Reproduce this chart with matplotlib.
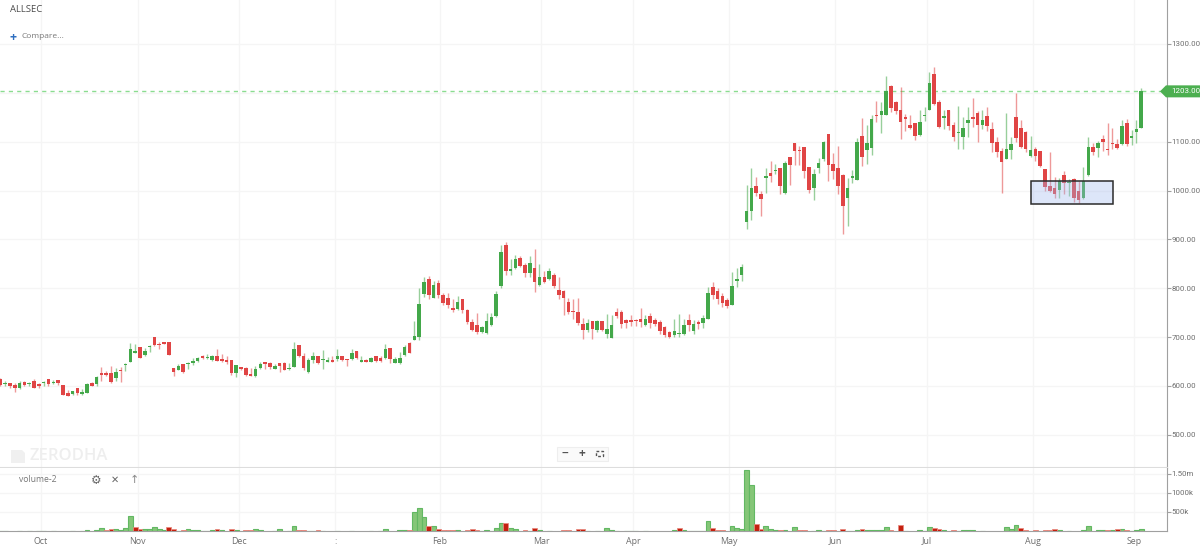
import numpy as np
import matplotlib
matplotlib.use("Agg")
import matplotlib.pyplot as plt
from matplotlib.patches import Rectangle, Polygon

plt.rcParams['font.family'] = ['Open Sans', 'DejaVu Sans']

symbol = "ALLSEC"
last_price = 1203.0

opens = [
    614, 604, 605, 601, 595, 609, 603, 610, 603, 605,
    614, 605, 612, 601, 586, 584, 595, 583, 586, 607,
    604, 624, 627, 627, 616, 633, 642, 649, 668, 680,
    663, 680, 701, 684, 689, 689, 637, 633, 644, 644,
    646, 652, 659, 657, 653, 661, 655, 652, 654, 626,
    639, 637, 622, 620, 636, 650, 646, 635, 646, 646,
    634, 639, 683, 661, 628, 653, 662, 653, 649, 653,
    656, 661, 654, 655, 671, 650, 654, 649, 661, 658,
    658, 677, 647, 646, 663, 687, 695, 701, 789, 818,
    780, 811, 786, 780, 760, 758, 778, 756, 731, 725,
    710, 708, 725, 744, 805, 888, 836, 841, 861, 848,
    831, 841, 807, 823, 818, 827, 797, 795, 772, 753,
    752, 727, 714, 733, 715, 732, 707, 699, 752, 751,
    735, 735, 735, 737, 725, 743, 735, 731, 720, 711,
    704, 706, 707, 735, 713, 731, 728, 738, 803, 795,
    785, 775, 766, 814, 827, 935, 958, 1010, 992, 1026,
    1035, 1039, 1046, 994, 1068, 1098, 1083, 1090, 1048, 1006,
    1046, 1065, 1115, 1054, 1046, 1032, 984, 1025, 1022, 1111,
    1082, 1088, 1154, 1154, 1154, 1214, 1182, 1165, 1150, 1135,
    1139, 1113, 1152, 1165, 1238, 1182, 1148, 1165, 1134, 1118,
    1109, 1139, 1151, 1158, 1135, 1153, 1125, 1099, 1080, 1064,
    1082, 1150, 1129, 1120, 1071, 1085, 1080, 1045, 1009, 1006,
    1002, 1031, 1015, 1024, 999, 984, 1031, 1090, 1088, 1105,
    1086, 1096, 1096, 1095, 1138, 1108, 1119, 1129,
]
closes = [
    602, 607, 600, 595, 605, 601, 607, 595, 599, 609,
    604, 608, 607, 582, 580, 589, 586, 588, 604, 600,
    618, 623, 622, 609, 629, 631, 644, 676, 671, 658,
    672, 682, 683, 683, 685, 663, 629, 640, 629, 645,
    651, 658, 658, 658, 661, 652, 652, 650, 626, 642,
    634, 622, 621, 635, 645, 644, 638, 641, 641, 633,
    637, 676, 661, 636, 654, 662, 646, 656, 654, 650,
    662, 654, 653, 667, 658, 652, 650, 658, 651, 652,
    676, 656, 655, 658, 680, 668, 703, 767, 812, 786,
    807, 786, 770, 765, 755, 771, 756, 730, 715, 710,
    720, 732, 741, 788, 875, 836, 839, 859, 846, 832,
    851, 812, 823, 812, 835, 805, 787, 780, 752, 751,
    729, 715, 729, 716, 733, 715, 717, 725, 744, 726,
    729, 730, 733, 731, 738, 728, 726, 712, 705, 701,
    712, 708, 725, 725, 727, 727, 739, 790, 786, 777,
    769, 764, 805, 818, 843, 958, 1005, 994, 982, 1029,
    1030, 1043, 1009, 1056, 1052, 1081, 1080, 1039, 1001, 1033,
    1057, 1099, 1052, 1039, 1010, 969, 1005, 1029, 1099, 1069,
    1097, 1147, 1152, 1163, 1203, 1169, 1162, 1141, 1146, 1129,
    1112, 1141, 1154, 1221, 1177, 1131, 1152, 1133, 1109, 1119,
    1128, 1145, 1147, 1135, 1145, 1133, 1097, 1078, 1059, 1084,
    1096, 1108, 1090, 1086, 1083, 1070, 1050, 1008, 1000, 993,
    1019, 1015, 1016, 985, 980, 1020, 1090, 1079, 1097, 1099,
    1082, 1095, 1087, 1133, 1095, 1112, 1126, 1203,
]
highs = [
    616, 610, 607, 605, 610, 610, 609, 614, 605, 610,
    614, 612, 612, 601, 592, 590, 595, 594, 607, 609,
    620, 639, 631, 641, 636, 639, 646, 687, 686, 680,
    677, 684, 701, 689, 689, 689, 637, 645, 644, 650,
    658, 660, 663, 665, 663, 675, 665, 661, 654, 643,
    639, 638, 636, 641, 650, 650, 649, 644, 646, 648,
    646, 690, 683, 668, 658, 669, 662, 673, 660, 661,
    675, 662, 656, 675, 671, 661, 656, 660, 662, 661,
    686, 677, 660, 670, 684, 690, 732, 800, 823, 826,
    814, 817, 791, 790, 778, 784, 778, 757, 737, 750,
    722, 749, 749, 795, 888, 895, 859, 867, 865, 851,
    865, 880, 849, 836, 841, 831, 822, 797, 780, 778,
    781, 739, 738, 733, 734, 733, 748, 746, 760, 756,
    738, 745, 737, 759, 746, 749, 739, 735, 722, 713,
    737, 748, 737, 748, 734, 734, 746, 802, 812, 800,
    790, 780, 834, 842, 850, 1012, 1047, 1028, 999, 1046,
    1060, 1054, 1047, 1060, 1068, 1098, 1092, 1090, 1048, 1044,
    1067, 1101, 1115, 1076, 1092, 1033, 1025, 1041, 1108, 1149,
    1135, 1154, 1184, 1181, 1235, 1215, 1183, 1211, 1157, 1154,
    1139, 1165, 1170, 1242, 1252, 1186, 1164, 1165, 1140, 1174,
    1150, 1171, 1190, 1163, 1165, 1171, 1141, 1109, 1087, 1158,
    1109, 1199, 1145, 1121, 1112, 1090, 1080, 1045, 1079, 1027,
    1026, 1039, 1024, 1025, 1020, 1049, 1110, 1097, 1102, 1114,
    1139, 1129, 1105, 1144, 1146, 1124, 1144, 1209,
]
lows = [
    599, 599, 595, 588, 594, 600, 600, 595, 595, 599,
    599, 604, 601, 582, 580, 582, 582, 582, 586, 599,
    600, 611, 621, 607, 610, 609, 631, 649, 667, 657,
    661, 670, 681, 675, 685, 663, 620, 632, 626, 635,
    643, 650, 655, 656, 652, 652, 649, 644, 623, 618,
    633, 620, 620, 618, 634, 634, 635, 634, 629, 633,
    633, 639, 660, 633, 626, 646, 644, 635, 648, 649,
    651, 651, 641, 654, 656, 649, 649, 648, 650, 650,
    656, 646, 646, 645, 662, 667, 695, 694, 783, 778,
    779, 780, 766, 759, 752, 756, 750, 727, 712, 707,
    708, 707, 722, 742, 801, 827, 827, 839, 843, 824,
    822, 793, 805, 810, 817, 800, 778, 746, 747, 737,
    725, 697, 710, 697, 710, 712, 698, 698, 739, 718,
    718, 722, 723, 721, 722, 718, 722, 707, 701, 698,
    701, 700, 704, 712, 706, 716, 718, 737, 778, 768,
    761, 760, 765, 802, 814, 921, 939, 988, 948, 994,
    1018, 1033, 993, 993, 1011, 1052, 1052, 1025, 995, 980,
    1035, 1061, 1020, 1023, 993, 911, 928, 1016, 1021, 1050,
    1055, 1072, 1141, 1118, 1154, 1160, 1157, 1106, 1121, 1126,
    1104, 1112, 1142, 1164, 1176, 1128, 1126, 1123, 1101, 1086,
    1085, 1110, 1131, 1100, 1126, 1121, 1078, 1068, 995, 1064,
    1064, 1100, 1087, 1078, 1068, 1061, 1049, 999, 997, 984,
    985, 993, 988, 977, 974, 983, 1030, 1073, 1069, 1080,
    1073, 1085, 1086, 1093, 1092, 1094, 1097, 1127,
]
# volume per session, in thousands of shares
volumes_k = [
    12, 10, 8, 12, 10, 8, 10, 12, 8, 10,
    10, 8, 12, 10, 12, 8, 10, 8, 14, 10,
    35, 80, 15, 45, 45, 35, 90, 380, 100, 60,
    60, 60, 115, 45, 25, 115, 60, 10, 35, 45,
    25, 25, 12, 10, 15, 45, 25, 10, 45, 25,
    12, 25, 25, 60, 25, 10, 8, 10, 60, 10,
    12, 130, 25, 25, 8, 10, 25, 8, 10, 6,
    8, 10, 8, 12, 10, 8, 10, 12, 8, 10,
    60, 12, 10, 25, 25, 14, 490, 590, 360, 130,
    125, 60, 25, 25, 25, 15, 12, 25, 60, 25,
    12, 25, 10, 90, 220, 220, 90, 45, 12, 25,
    10, 80, 25, 10, 8, 10, 12, 25, 25, 12,
    60, 45, 12, 10, 8, 10, 80, 25, 10, 8,
    10, 8, 10, 12, 8, 10, 12, 8, 10, 8,
    25, 80, 25, 12, 10, 8, 10, 250, 80, 25,
    18, 12, 140, 80, 60, 1590, 1200, 180, 45, 125,
    60, 35, 25, 25, 10, 115, 25, 25, 10, 10,
    25, 10, 25, 25, 8, 45, 10, 12, 25, 60,
    25, 25, 25, 25, 115, 25, 10, 170, 10, 12,
    10, 25, 10, 100, 80, 45, 25, 10, 25, 10,
    25, 25, 25, 8, 10, 8, 12, 10, 8, 100,
    45, 160, 80, 35, 12, 25, 10, 25, 25, 45,
    25, 12, 10, 8, 10, 25, 130, 10, 35, 25,
    25, 35, 45, 60, 35, 10, 25, 45,
]

price_ticks = [500, 600, 700, 800, 900, 1000, 1100, 1200, 1300]
# the 1200 level has no label of its own, the last price tag sits there
price_tick_labels = ["500.00", "600.00", "700.00", "800.00", "900.00", "1000.00", "1100.00", "", "1300.00"]
volume_ticks = [500000, 1000000, 1500000]
volume_tick_labels = ["500k", "1000k", "1.50m"]
# month boundaries, as session positions; the January label is only a mark
month_pos = [8.45, 28.5, 49.55, 69.6, 91.3, 112.3, 131.4, 151.4, 173.4, 192.5, 214.5, 235.5]
month_labels = ["Oct", "Nov", "Dec", ":", "Feb", "Mar", "Apr", "May", "Jun", "Jul", "Aug", "Sep"]
# drawn box: first session, last session, lower price, upper price
box_sessions = [214.0, 231.07]
box_prices = [973, 1020]

GREEN = "#43a84a"
RED = "#e04545"
GRID = "#f5f5f5"
AXIS = "#a0a0a0"
TEXT = "#6e6e6e"

W, H = 1200, 546
PANE_RIGHT = 1167
PANE_SPLIT = 468
PANE_BOTTOM = 531
X_STEP = 4.814
X_FIRST = 0.33

fig = plt.figure(figsize=(W / 100, H / 100), dpi=100, facecolor="white")
ax = fig.add_axes([0, 1 - PANE_SPLIT / H, PANE_RIGHT / W, PANE_SPLIT / H])
vol_ax = fig.add_axes([0, 1 - PANE_BOTTOM / H, PANE_RIGHT / W, (PANE_BOTTOM - PANE_SPLIT) / H])
# full-figure layer in pixel units for the widgets around the chart
ui = fig.add_axes([0, 0, 1, 1], zorder=5)
ui.set_xlim(0, W)
ui.set_ylim(H, 0)
ui.axis("off")
ui.patch.set_alpha(0)

xlim = ((0 - X_FIRST) / X_STEP, (PANE_RIGHT - X_FIRST) / X_STEP)
sessions = np.arange(len(closes))
opens = np.array(opens, dtype=float)
closes = np.array(closes, dtype=float)
highs = np.array(highs, dtype=float)
lows = np.array(lows, dtype=float)
up = closes >= opens
colors = np.where(up, GREEN, RED)

# candles: faint wicks, solid bodies
ax.vlines(sessions, lows, highs, colors=colors, linewidth=1.0, alpha=0.55, zorder=3)
body_low = np.minimum(opens, closes)
body_height = np.maximum(np.abs(closes - opens), 2.5)
ax.bar(sessions, body_height, bottom=body_low, width=0.74, color=colors, linewidth=0, zorder=4)

ax.set_xlim(*xlim)
ax.set_ylim(432, 1390)
ax.set_xticks(month_pos)
ax.set_yticks(price_ticks)
ax.set_yticklabels(price_tick_labels, family="Roboto")
ax.grid(True, color=GRID, linewidth=1)
ax.set_axisbelow(True)
ax.tick_params(axis="x", length=0, labelbottom=False)
ax.yaxis.tick_right()
ax.tick_params(axis="y", length=3, width=0.8, color=AXIS, labelcolor=TEXT, labelsize=5.7, pad=0)
for s in ["top", "left"]:
    ax.spines[s].set_visible(False)
ax.spines["right"].set_color(AXIS)
ax.spines["bottom"].set_color("#dddddd")
ax.spines["bottom"].set_linewidth(1.5)

# last traded price
ax.axhline(last_price, color="#8bdc90", linewidth=1, linestyle=(0, (3, 3)), zorder=2)

# annotation box over the August consolidation
ax.add_patch(Rectangle((box_sessions[0], box_prices[0]), box_sessions[1] - box_sessions[0],
                       box_prices[1] - box_prices[0], facecolor="#a0b8ee", alpha=0.35,
                       edgecolor="none", zorder=5))
ax.add_patch(Rectangle((box_sessions[0], box_prices[0]), box_sessions[1] - box_sessions[0],
                       box_prices[1] - box_prices[0], fill=False, edgecolor="#2b2b2b",
                       linewidth=1.1, zorder=6))

# volume pane, coloured against the previous close
prev_close = np.concatenate(([closes[0]], closes[:-1]))
vol_up = closes >= prev_close
volumes = np.array(volumes_k, dtype=float) * 1000
vol_ax.bar(sessions[vol_up], volumes[vol_up], width=1.0, color="#85c678", edgecolor="#62b863",
           linewidth=0.8, zorder=3)
vol_ax.bar(sessions[~vol_up], volumes[~vol_up], width=1.0, color="#c4200f", edgecolor="#e88a80",
           linewidth=0.6, zorder=3)
vol_ax.set_xlim(*xlim)
vol_ax.set_ylim(0, 1650000)
vol_ax.set_xticks(month_pos)
vol_ax.set_xticklabels(month_labels)
vol_ax.set_yticks(volume_ticks)
vol_ax.set_yticklabels(volume_tick_labels, family="Roboto")
vol_ax.grid(True, color=GRID, linewidth=1)
vol_ax.set_axisbelow(True)
vol_ax.yaxis.tick_right()
vol_ax.tick_params(axis="y", length=3, width=0.8, color=AXIS, labelcolor=TEXT, labelsize=5.7, pad=0)
vol_ax.tick_params(axis="x", length=0, labelcolor=TEXT, labelsize=6.4, pad=4)
for s in ["top", "left"]:
    vol_ax.spines[s].set_visible(False)
vol_ax.spines["right"].set_color(AXIS)
vol_ax.spines["bottom"].set_color(AXIS)

# header text
ui.text(10, 9, symbol, fontsize=6.8, color="#4a4a4a", va="center")
ui.text(10, 37, "+", fontsize=9, color="#2f6fc0", va="center", fontweight="bold")
ui.text(21, 37, "Compare...", fontsize=6.0, color="#777777", va="center")

# watermark
ui.add_patch(Polygon([(11, 450), (22, 450), (25, 453), (25, 463), (11, 463)], facecolor="#f0f0f0", edgecolor="none"))
ui.text(29, 456.5, "ZERODHA", fontsize=12, color="#eeeeee", va="center", fontweight="semibold")

# zoom buttons
ui.add_patch(Rectangle((557, 447), 51, 14, facecolor="#fafafa", edgecolor="#eeeeee", linewidth=0.8))
ui.text(565, 453.5, "−", fontsize=8.5, color="#555555", ha="center", va="center", fontweight="bold")
ui.text(582, 453.5, "+", fontsize=8.5, color="#555555", ha="center", va="center", fontweight="bold")
ui.add_patch(Rectangle((595.5, 451), 7, 5, facecolor="none", edgecolor="#555555", linewidth=1, linestyle=(0, (2, 1.5))))

# volume study controls
ui.text(19, 480, "volume-2", fontsize=6.2, color="#777777", va="center")
ui.text(96, 480, "\u2699", fontsize=8.5, color="#666666", ha="center", va="center", family="DejaVu Sans")
ui.text(115, 480, "\u2715", fontsize=7, color="#666666", ha="center", va="center", family="DejaVu Sans")
ui.text(134, 480, "\u2191", fontsize=8, color="#888888", ha="center", va="center", family="DejaVu Sans")

# price tag for the last close
tag_y = H - ax.transData.transform((0, last_price))[1]
ui.add_patch(Polygon([(1160, tag_y), (1166, tag_y - 6), (1200, tag_y - 6), (1200, tag_y + 6), (1166, tag_y + 6)],
                     facecolor="#4caf50", edgecolor="none"))
ui.text(1171, tag_y, "%.2f" % last_price, fontsize=5.7, color="white", va="center", family="Roboto")

fig.savefig("out.png", dpi=100, facecolor="white")
